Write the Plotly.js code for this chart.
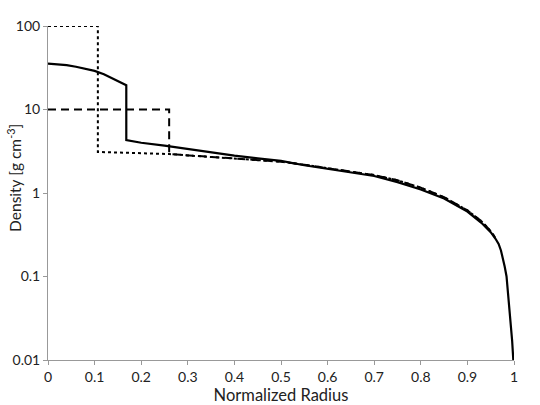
<!DOCTYPE html>
<html>
<head>
<meta charset="utf-8">
<script src="https://cdn.plot.ly/plotly-3.0.1.min.js"></script>
<style>html,body{margin:0;padding:0;background:#fff;}#chart{width:540px;height:405px;}</style>
</head>
<body>
<div id="chart"></div>
<script>
// Solid: model with core jump
const solidR = [0, 0.02, 0.04, 0.06, 0.08, 0.10, 0.12, 0.14, 0.16, 0.168, 0.168, 0.2, 0.25, 0.3, 0.35, 0.4, 0.45, 0.5, 0.55, 0.6, 0.65, 0.7, 0.75, 0.8, 0.85, 0.9, 0.93, 0.95, 0.96, 0.967, 0.972, 0.976, 0.98, 0.984, 0.988, 0.992, 0.996, 0.9985];
const solidRho = [35.5, 35, 34, 32.5, 30.5, 29, 26.5, 23.5, 20.5, 19.5, 4.3, 4.0, 3.7, 3.35, 3.05, 2.8, 2.6, 2.42, 2.15, 1.95, 1.76, 1.6, 1.35, 1.1, 0.86, 0.6, 0.44, 0.34, 0.285, 0.245, 0.205, 0.17, 0.132, 0.1, 0.058, 0.032, 0.017, 0.01];

// Dotted: dense small core
const dottedR = [0, 0.107, 0.107, 0.15, 0.2, 0.26, 0.3, 0.35, 0.4, 0.45, 0.5, 0.55, 0.6, 0.65, 0.7, 0.75, 0.8, 0.85, 0.9, 0.93, 0.95, 0.96];
const dottedRho = [100, 100, 3.1, 3.05, 2.99, 2.93, 2.82, 2.7, 2.58, 2.47, 2.37, 2.18, 1.99, 1.8, 1.64, 1.42, 1.16, 0.89, 0.62, 0.46, 0.35, 0.29];

// Dashed: large low-density core
const dashedR = [0, 0.26, 0.26, 0.3, 0.35, 0.4, 0.45, 0.5, 0.55, 0.6, 0.65, 0.7, 0.75, 0.8, 0.85, 0.9, 0.93, 0.95, 0.96];
const dashedRho = [10, 10, 2.93, 2.82, 2.7, 2.58, 2.47, 2.37, 2.18, 1.99, 1.8, 1.64, 1.42, 1.16, 0.89, 0.62, 0.46, 0.35, 0.29];

const xTicks = [0, 0.1, 0.2, 0.3, 0.4, 0.5, 0.6, 0.7, 0.8, 0.9, 1];
const xTickText = ["0", "0.1", "0.2", "0.3", "0.4", "0.5", "0.6", "0.7", "0.8", "0.9", "1"];
const yTicks = [0.01, 0.1, 1, 10, 100];
const yTickText = ["0.01", "0.1", "1", "10", "100"];

const fontFam = "Lato, 'Open Sans', sans-serif";

const traces = [
  {x: dottedR, y: dottedRho, mode: 'lines', line: {color: '#000', width: 2, dash: 'dot'}},
  {x: dashedR, y: dashedRho, mode: 'lines', line: {color: '#000', width: 2, dash: '8px,5px'}},
  {x: solidR, y: solidRho, mode: 'lines', line: {color: '#000', width: 2.2}}
];

const layout = {
  width: 540, height: 405,
  margin: {l: 48, r: 26, t: 26, b: 45},
  paper_bgcolor: '#fff', plot_bgcolor: '#fff',
  showlegend: false,
  font: {family: fontFam, size: 14, color: '#222'},
  xaxis: {
    range: [0, 1], tickvals: xTicks, ticktext: xTickText,
    showgrid: false, zeroline: false, showline: true, linecolor: '#999', linewidth: 1,
    ticks: 'outside', ticklen: 4, tickcolor: '#999',
    tickfont: {family: fontFam, size: 14, color: '#222'},
    title: {text: 'Normalized Radius', font: {family: fontFam, size: 16.5, color: '#222'}, standoff: 1}
  },
  yaxis: {
    type: 'log', range: [-2, 2], tickvals: yTicks, ticktext: yTickText,
    showgrid: false, zeroline: false, showline: true, linecolor: '#999', linewidth: 1,
    ticks: 'outside', ticklen: 4, tickcolor: '#999',
    tickfont: {family: fontFam, size: 14, color: '#222'}
  },
  annotations: [{
    text: 'Density [g cm<sup>-3</sup>]', textangle: -90,
    xref: 'paper', yref: 'paper', x: -0.071, y: 0.545,
    xanchor: 'center', yanchor: 'middle', showarrow: false,
    font: {family: fontFam, size: 15.5, color: '#222'}
  }]
};

Plotly.newPlot('chart', traces, layout, {displayModeBar: false, staticPlot: true});
</script>
</body>
</html>
